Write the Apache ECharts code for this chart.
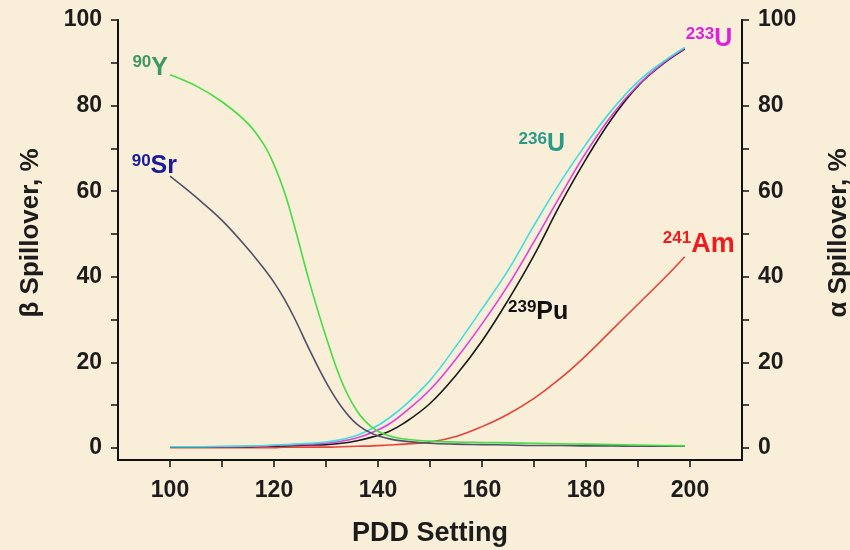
<!DOCTYPE html>
<html>
<head>
<meta charset="utf-8">
<script src="https://cdn.jsdelivr.net/npm/echarts@6/dist/echarts.min.js"></script>
<style>
  html, body { margin: 0; padding: 0; background: #f9efd9; }
  #chart { width: 850px; height: 550px; }
</style>
</head>
<body>
<div id="chart"></div>
<script>
// PDD settings at which spillover was read
const pdd = [100, 105, 110, 115, 118, 120, 122, 124, 127, 130, 133, 136, 139, 142, 145, 150, 155, 160, 165, 170, 175, 180, 185, 190, 195, 199];

// beta emitters (left axis), %
const y90 = [87.2, 84.6, 80.9, 75.8, 71.0, 66.2, 59.8, 51.5, 38.0, 26.0, 15.6, 8.6, 4.7, 2.9, 2.1, 1.6, 1.4, 1.3, 1.2, 1.1, 1.0, 0.9, 0.8, 0.7, 0.6, 0.5];
const sr90 = [63.5, 58.6, 53.2, 46.5, 42.0, 38.7, 34.8, 30.2, 22.5, 15.4, 9.6, 5.5, 3.3, 2.2, 1.6, 1.1, 0.9, 0.8, 0.7, 0.6, 0.6, 0.5, 0.5, 0.4, 0.4, 0.4];

// alpha emitters (right axis), %
const u236 = [0.3, 0.3, 0.4, 0.5, 0.6, 0.7, 0.8, 0.9, 1.1, 1.4, 2.0, 3.0, 4.6, 6.9, 9.8, 15.8, 23.8, 32.5, 41.5, 52.0, 62.0, 71.0, 79.0, 85.6, 90.4, 93.6];
const u233 = [0.3, 0.3, 0.3, 0.4, 0.5, 0.6, 0.7, 0.8, 0.9, 1.1, 1.6, 2.4, 3.7, 5.5, 8.2, 13.6, 20.8, 29.0, 38.0, 48.2, 58.8, 69.0, 77.8, 84.8, 90.1, 93.4];
const pu239 = [0.2, 0.2, 0.3, 0.3, 0.4, 0.4, 0.5, 0.6, 0.7, 0.8, 1.1, 1.7, 2.6, 3.8, 5.8, 10.4, 17.0, 25.0, 34.5, 45.0, 56.8, 67.5, 77.0, 84.6, 89.9, 93.2];
const am241 = [0.1, 0.1, 0.1, 0.1, 0.1, 0.1, 0.2, 0.2, 0.2, 0.2, 0.3, 0.4, 0.5, 0.7, 0.9, 1.4, 2.7, 5.0, 7.9, 11.6, 16.2, 21.6, 27.6, 33.6, 39.6, 44.7];

// axis ticks and labels
const xTicks = [100, 110, 120, 130, 140, 150, 160, 170, 180, 190, 200];
const xLabels = [100, 120, 140, 160, 180, 200];
const yTicks = [0, 10, 20, 30, 40, 50, 60, 70, 80, 90, 100];
const yLabels = [0, 20, 40, 60, 80, 100];

const FONT = '"Liberation Sans", Arial, Helvetica, sans-serif';
const INK = '#1c1c1c';

function isotopeLabel(mass, element, color, placement, size) {
  const big = size || 25;
  return Object.assign({
    show: true,
    formatter: '{m|' + mass + '}{e|' + element + '}',
    rich: {
      m: { fontSize: 17, fontWeight: 'bold', color: color, fontFamily: FONT, verticalAlign: 'top', lineHeight: 15 },
      e: { fontSize: big, fontWeight: 'bold', color: color, fontFamily: FONT, lineHeight: big + 2 }
    }
  }, placement);
}

function seriesData(values, labelAt, label) {
  const idx = pdd.indexOf(labelAt);
  return pdd.map((x, i) => i === idx ? { value: [x, values[i]], label: label } : [x, values[i]]);
}

function curve(name, values, color, axis, labelAt, label) {
  return {
    name: name,
    type: 'line',
    yAxisIndex: axis,
    smooth: 0.4,
    symbol: 'circle',
    symbolSize: 0,
    showSymbol: true,
    showAllSymbol: true,
    silent: true,
    lineStyle: { color: color, width: 1.6 },
    itemStyle: { color: color },
    label: { show: false },
    emphasis: { disabled: true },
    data: seriesData(values, labelAt, label)
  };
}

function valueAxis(name, side, gap) {
  return {
    type: 'value',
    position: side,
    min: -2.8,
    max: 100,
    name: name,
    nameLocation: 'middle',
    nameRotate: 90,
    nameGap: gap,
    nameTextStyle: { fontSize: 26, fontWeight: 'bold', color: INK, fontFamily: FONT, padding: [0, 0, 0, 14] },
    axisLine: { show: true, lineStyle: { color: '#111', width: 2 } },
    axisTick: { show: true, length: 7, customValues: yTicks, lineStyle: { color: '#111', width: 1.5 } },
    axisLabel: { customValues: yLabels, margin: 16, fontSize: 23, fontWeight: 'bold', color: INK, fontFamily: FONT },
    splitLine: { show: false }
  };
}

const chart = echarts.init(document.getElementById('chart'), null, { renderer: 'canvas' });

chart.setOption({
  animation: false,
  backgroundColor: '#f9efd9',
  grid: { left: 118, right: 108, top: 20, bottom: 90, outerBoundsMode: 'none' },
  xAxis: {
    type: 'value',
    min: 90,
    max: 210,
    name: 'PDD Setting',
    nameLocation: 'middle',
    nameGap: 60,
    nameTextStyle: { fontSize: 27, fontWeight: 'bold', color: INK, fontFamily: FONT },
    axisLine: { show: true, onZero: false, lineStyle: { color: '#111', width: 2 } },
    axisTick: { show: true, length: 7, customValues: xTicks, lineStyle: { color: '#111', width: 1.5 } },
    axisLabel: { customValues: xLabels, margin: 19, fontSize: 23, fontWeight: 'bold', color: INK, fontFamily: FONT },
    splitLine: { show: false }
  },
  yAxis: [
    valueAxis('β Spillover, %', 'left', 74),
    valueAxis('α Spillover, %', 'right', 84)
  ],
  series: [
    curve('241Am', am241, '#e8423a', 1, 199,
      isotopeLabel('241', 'Am', '#ee1c1c', { position: 'top', distance: 0, offset: [14, 2] }, 27)),
    curve('239Pu', pu239, '#1a1a1a', 1, 165,
      isotopeLabel('239', 'Pu', '#111111', { position: 'right', distance: 0, offset: [0, 12] })),
    curve('233U', u233, '#e040dc', 1, 199,
      isotopeLabel('233', 'U', '#e020dc', { position: 'right', distance: 1, offset: [0, -9] })),
    curve('236U', u236, '#40dede', 1, 180,
      isotopeLabel('236', 'U', '#2a9a88', { position: 'left', distance: 21, offset: [0, 0] })),
    curve('90Sr', sr90, '#50506a', 0, 100,
      isotopeLabel('90', 'Sr', '#1a1a9a', { position: 'left', distance: 0, offset: [7, -10] })),
    curve('90Y', y90, '#44dd44', 0, 100,
      isotopeLabel('90', 'Y', '#3c9a60', { position: 'left', distance: 0, offset: [-2, -7] }))
  ]
});
</script>
</body>
</html>
